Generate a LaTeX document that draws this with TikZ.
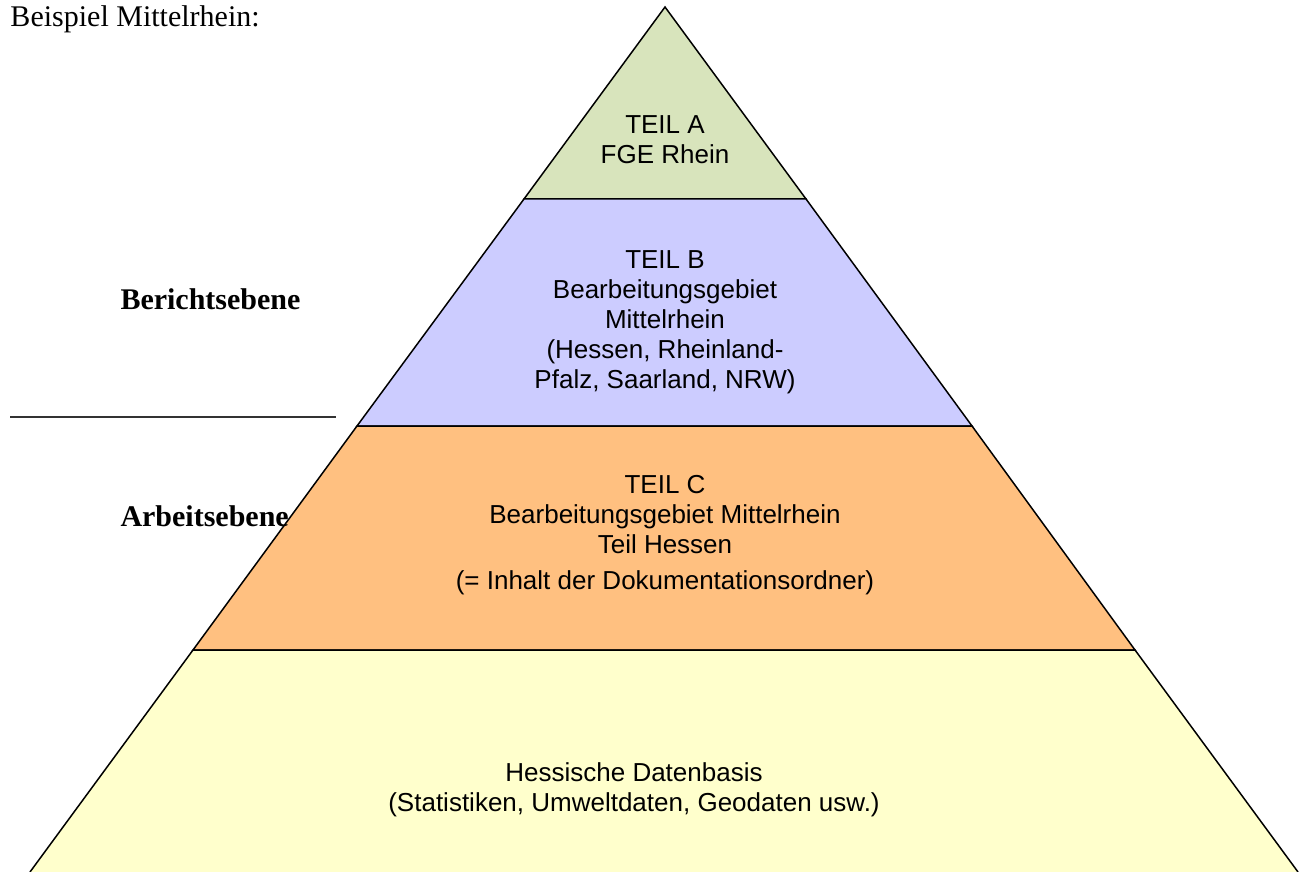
\documentclass[tikz,border=0pt]{standalone}
\usepackage{fontspec}
\setmainfont{Liberation Serif}
\newfontfamily\arialfont{Liberation Sans}

\definecolor{teilA}{RGB}{216,228,188}
\definecolor{teilB}{RGB}{204,204,255}
\definecolor{teilC}{RGB}{255,192,128}
\definecolor{basis}{RGB}{255,255,204}

\tikzset{
    layer/.style={draw=black, line width=0.6pt, line join=miter},
    teil/.style={font=\arialfont\fontsize{10.4}{12}\selectfont, align=center, inner sep=0pt, anchor=north},
    ebene/.style={font=\fontsize{12}{14}\selectfont, anchor=base west, inner sep=0pt}
}

\begin{document}
\begin{tikzpicture}[x=0.4pt, y=-0.4pt]
    \useasboundingbox (0,0) rectangle (1306,872);

    % corners of the pyramid
    \coordinate (top) at (665,7);
    \coordinate (a1) at (524,199);  \coordinate (a2) at (806,199);
    \coordinate (b1) at (357,426);  \coordinate (b2) at (972,426);
    \coordinate (c1) at (193,650);  \coordinate (c2) at (1135,650);
    \coordinate (d1) at (30,872);   \coordinate (d2) at (1298,872);

    \filldraw[layer, fill=teilA] (top) -- (a2) -- (a1) -- cycle;
    \filldraw[layer, fill=teilB] (a1) -- (a2) -- (b2) -- (b1) -- cycle;
    \filldraw[layer, fill=teilC] (b1) -- (b2) -- (c2) -- (c1) -- cycle;
    \fill[basis] (c1) -- (c2) -- (d2) -- (d1) -- cycle;
    \draw[layer] (d1) -- (c1) -- (c2) -- (d2);

    \node[teil] (tA) at (665,115) {TEIL A\\FGE Rhein};
    \node[teil] (tB) at (665,250) {TEIL B\\Bearbeitungsgebiet\\Mittelrhein\\(Hessen, Rheinland-\\Pfalz, Saarland, NRW)};
    \node[teil] (tC) at (665,475) {TEIL C\\Bearbeitungsgebiet Mittelrhein\\Teil Hessen\\[2.4pt](= Inhalt der Dokumentationsordner)};
    \node[teil] (tD) at (634,762) {Hessische Datenbasis\\(Statistiken, Umweltdaten, Geodaten usw.)};

    % left side
    \node[ebene] (bsp) at (10,27) {Beispiel Mittelrhein:};
    \node[ebene, font=\bfseries\fontsize{12}{14}\selectfont] (ber) at (120,310) {Berichtsebene};
    \node[ebene, font=\bfseries\fontsize{12}{14}\selectfont] (arb) at (120,526) {Arbeitsebene};
    \draw[black!80, line width=0.5pt] (10,417) -- (336,417);
\end{tikzpicture}
\end{document}
